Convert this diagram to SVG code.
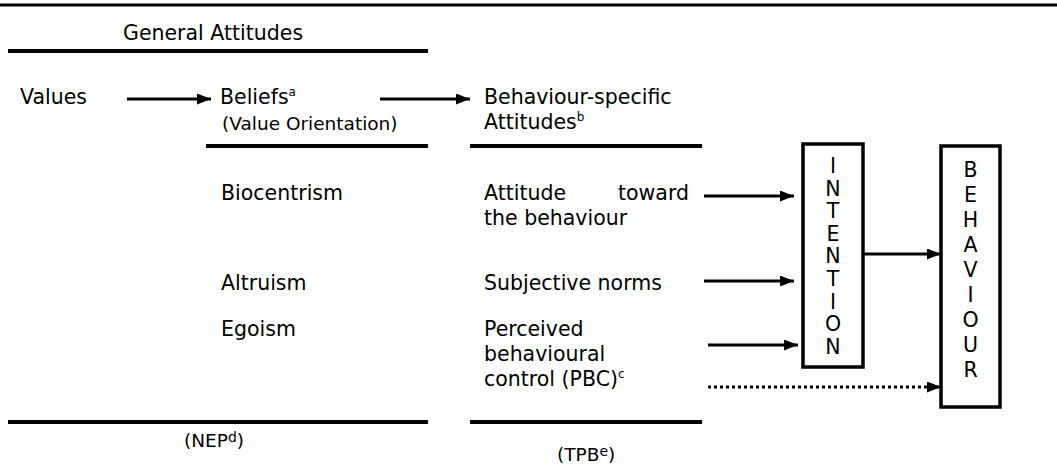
<svg xmlns="http://www.w3.org/2000/svg" width="1057" height="472" viewBox="0 0 1057 472">
  <style>
    text { font-family: "DejaVu Sans", Verdana, sans-serif; fill: #000; }
    .t { font-size: 20.5px; }
    .s { font-size: 18.5px; }
    .sup { font-size: 12px; }
    .supb { font-size: 14px; }
    .box text { font-size: 20.5px; text-anchor: middle; }
    .rule { stroke: #000; stroke-width: 4; }
    .conn line { stroke: #000; stroke-width: 3; fill: none; }
    .dot { stroke-dasharray: 3 3; }
    rect { fill: #fff; stroke: #000; stroke-width: 3.5; }
  </style>
  <defs>
    <marker id="ah" viewBox="0 0 14 11" refX="14" refY="5.5" markerWidth="14" markerHeight="11" markerUnits="userSpaceOnUse" orient="auto">
      <path d="M0,0 L14,5.5 L0,11 Z" fill="#000"/>
    </marker>
  </defs>

  <!-- frame rules -->
  <g id="rules">
    <line class="rule" x1="0" y1="5" x2="1057" y2="5" style="stroke-width:3"/>
    <line class="rule" x1="8" y1="51" x2="428" y2="51"/>
    <line class="rule" x1="206" y1="146" x2="428" y2="146"/>
    <line class="rule" x1="470" y1="146" x2="702" y2="146"/>
    <line class="rule" x1="8" y1="422" x2="428" y2="422"/>
    <line class="rule" x1="470" y1="422" x2="702" y2="422"/>
  </g>

  <g id="general-attitudes"><text class="t" x="123" y="40">General Attitudes</text></g>
  <g id="values"><text class="t" x="20" y="104">Values</text></g>
  <g id="beliefs">
    <text class="t" x="220" y="104">Beliefs<tspan class="sup" dy="-8">a</tspan></text>
    <text class="s" x="222" y="130">(Value Orientation)</text>
  </g>
  <g id="specific-attitudes">
    <text class="t" x="484" y="104">Behaviour-specific</text>
    <text class="t" x="484" y="129">Attitudes<tspan class="sup" dy="-8">b</tspan></text>
  </g>
  <g id="biocentrism"><text class="t" x="221" y="200">Biocentrism</text></g>
  <g id="altruism"><text class="t" x="221" y="290">Altruism</text></g>
  <g id="egoism"><text class="t" x="221" y="336">Egoism</text></g>
  <g id="attitude-behaviour">
    <text class="t" x="484" y="200">Attitude</text>
    <text class="t" x="689" y="200" text-anchor="end">toward</text>
    <text class="t" x="484" y="225">the behaviour</text>
  </g>
  <g id="subjective-norms"><text class="t" x="484" y="290">Subjective norms</text></g>
  <g id="pbc">
    <text class="t" x="484" y="336">Perceived</text>
    <text class="t" x="484" y="361">behavioural</text>
    <text class="t" x="484" y="386">control (PBC)<tspan class="sup" dy="-8">c</tspan></text>
  </g>
  <g id="nep"><text class="s" x="184" y="447">(NEP<tspan class="supb" dy="-5">d</tspan><tspan dy="5">)</tspan></text></g>
  <g id="tpb"><text class="s" x="557" y="461">(TPB<tspan class="supb" dy="-5">e</tspan><tspan dy="5">)</tspan></text></g>

  <g id="intention" class="box">
    <rect x="803" y="144" width="60" height="223"/>
    <text x="833" y="173">I</text>
    <text x="833" y="196">N</text>
    <text x="833" y="218">T</text>
    <text x="833" y="241">E</text>
    <text x="833" y="263">N</text>
    <text x="833" y="286">T</text>
    <text x="833" y="309">I</text>
    <text x="833" y="331">O</text>
    <text x="833" y="354">N</text>
  </g>

  <g id="behaviour" class="box">
    <rect x="941" y="146" width="59" height="261"/>
    <text x="970.5" y="177">B</text>
    <text x="970.5" y="202">E</text>
    <text x="970.5" y="227">H</text>
    <text x="970.5" y="252">A</text>
    <text x="970.5" y="277">V</text>
    <text x="970.5" y="302">I</text>
    <text x="970.5" y="327">O</text>
    <text x="970.5" y="352">U</text>
    <text x="970.5" y="377">R</text>
  </g>

  <g id="connectors" class="conn">
    <line x1="127" y1="99" x2="211" y2="99" marker-end="url(#ah)"/>
    <line x1="380" y1="99" x2="470" y2="99" marker-end="url(#ah)"/>
    <line x1="704" y1="196" x2="794" y2="196" marker-end="url(#ah)"/>
    <line x1="704" y1="281" x2="794" y2="281" marker-end="url(#ah)"/>
    <line x1="708" y1="345" x2="798" y2="345" marker-end="url(#ah)"/>
    <line x1="863" y1="254" x2="941" y2="254" marker-end="url(#ah)"/>
    <line class="dot" x1="708" y1="387" x2="941" y2="387" marker-end="url(#ah)"/>
  </g>
</svg>
